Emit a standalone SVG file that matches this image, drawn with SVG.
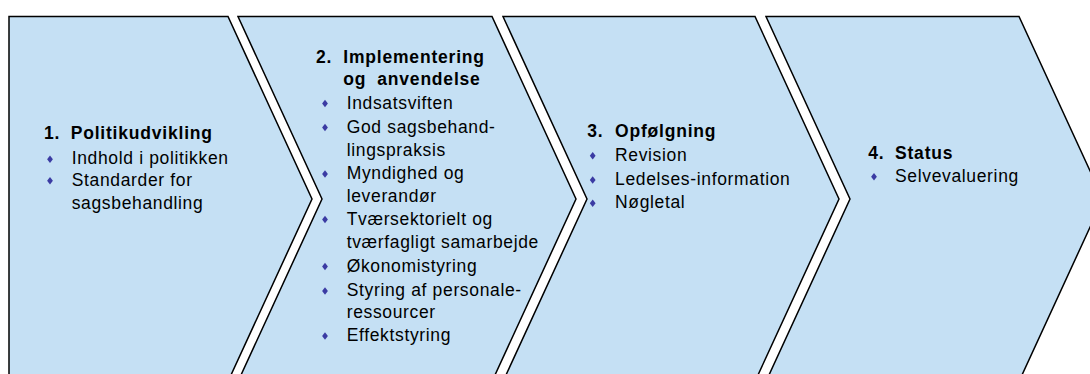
<svg xmlns="http://www.w3.org/2000/svg" xmlns:xlink="http://www.w3.org/1999/xlink" width="1090" height="374" viewBox="0 0 1090 374">
<defs>
<style>
.c{fill:#C5E0F4;stroke:#000;stroke-width:1.5;stroke-linejoin:miter}
.t{font-family:"Liberation Sans",Arial,sans-serif;font-size:17.5px;letter-spacing:0.65px;fill:#000}
.h{font-weight:bold;letter-spacing:0.8px}
.b{fill:#3B3BA3}
</style>
<path id="dm" d="M0,-3.8 L2.9,0 L0,3.8 L-2.9,0 Z"/>
</defs>
<rect width="1090" height="374" fill="#fff"/>
<g id="connectors"/>
<g id="step1">
<path class="c" d="M9,16.5 L228,16.5 L312,199 L228,381.5 L9,381.5 Z"/>
<text class="t h" x="44" y="139.3">1.</text>
<text class="t h" x="70.7" y="139.3">Politikudvikling</text>
<use href="#dm" class="b" x="50" y="159.3"/>
<text class="t" x="71.7" y="164.3">Indhold i politikken</text>
<use href="#dm" class="b" x="50" y="180.7"/>
<text class="t" x="71.7" y="185.7">Standarder for</text>
<text class="t" x="71.7" y="209.3">sagsbehandling</text>
</g>
<g id="step2">
<path class="c" d="M238,16.5 L492,16.5 L576,199 L492,381.5 L238,381.5 L322,199 Z"/>
<text class="t h" x="316" y="63">2.</text>
<text class="t h" x="343.3" y="63">Implementering</text>
<text class="t h" x="343.3" y="84.5">og<tspan x="377.3">anvendelse</tspan></text>
<use href="#dm" class="b" x="325" y="103.5"/>
<text class="t" x="346.7" y="108.5">Indsatsviften</text>
<use href="#dm" class="b" x="325" y="127.5"/>
<text class="t" x="346.7" y="132.5">God sagsbehand-</text>
<text class="t" x="346.7" y="155.5">lingspraksis</text>
<use href="#dm" class="b" x="325" y="174"/>
<text class="t" x="346.7" y="179">Myndighed og</text>
<text class="t" x="346.7" y="201.5">leverandør</text>
<use href="#dm" class="b" x="325" y="219.5"/>
<text class="t" x="346.7" y="224.5">Tværsektorielt og</text>
<text class="t" x="346.7" y="247.5">tværfagligt samarbejde</text>
<use href="#dm" class="b" x="325" y="266.5"/>
<text class="t" x="346.7" y="271.5">Økonomistyring</text>
<use href="#dm" class="b" x="325" y="291"/>
<text class="t" x="346.7" y="296">Styring af personale-</text>
<text class="t" x="346.7" y="318">ressourcer</text>
<use href="#dm" class="b" x="325" y="336"/>
<text class="t" x="346.7" y="341">Effektstyring</text>
</g>
<g id="step3">
<path class="c" d="M503,16.5 L755,16.5 L839,199 L755,381.5 L503,381.5 L587,199 Z"/>
<text class="t h" x="587.3" y="137.3">3.</text>
<text class="t h" x="615" y="137.3">Opfølgning</text>
<use href="#dm" class="b" x="592.7" y="155.7"/>
<text class="t" x="615" y="160.7">Revision</text>
<use href="#dm" class="b" x="592.7" y="180"/>
<text class="t" x="615" y="185">Ledelses-information</text>
<use href="#dm" class="b" x="592.7" y="203.3"/>
<text class="t" x="615" y="208.3">Nøgletal</text>
</g>
<g id="step4">
<path class="c" d="M766,16.5 L1019,16.5 L1103,199 L1019,381.5 L766,381.5 L850,199 Z"/>
<text class="t h" x="868.3" y="159">4.</text>
<text class="t h" x="895" y="159">Status</text>
<use href="#dm" class="b" x="874" y="176.7"/>
<text class="t" x="895" y="181.7">Selvevaluering</text>
</g>
</svg>
